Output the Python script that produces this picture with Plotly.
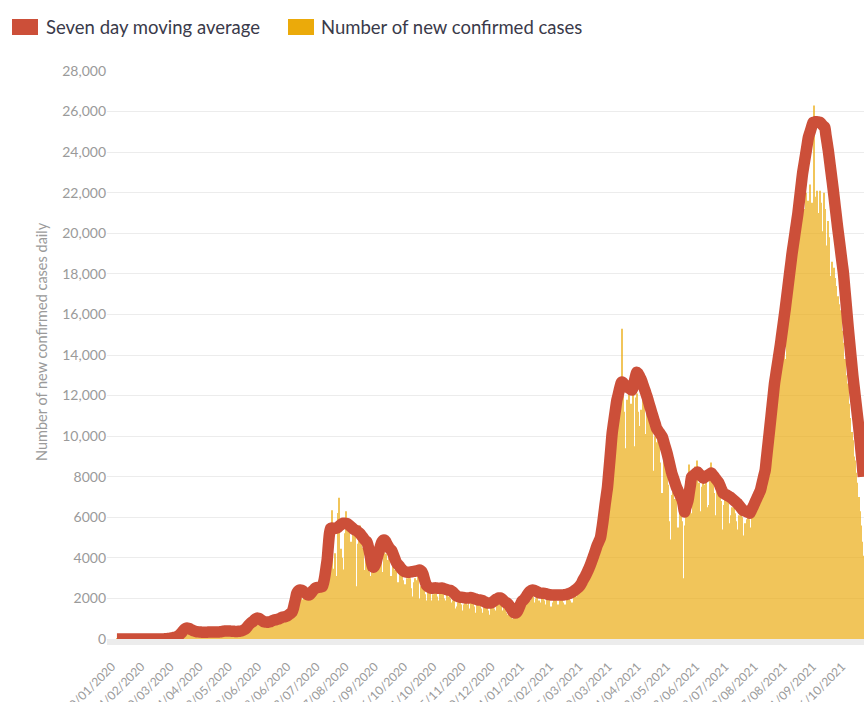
import pandas as pd
import plotly.graph_objects as go

start_date = "2020-01-30"

# Daily new confirmed cases (one value per day)
new_cases = [
    1, 0, 1, 0, 0, 0, 1, 0, 0, 0,
    0, 0, 0, 0, 0, 0, 0, 0, 0, 0,
    0, 0, 0, 0, 0, 0, 0, 0, 0, 0,
    0, 0, 0, 0, 0, 0,
    2, 0, 2, 1, 4, 6, 10, 3, 12, 10, 20, 47, 64, 77, 140,
    90, 102, 217, 84, 272, 343, 538, 305, 528, 385, 343, 507, 227, 414, 250, 302, 192, 398, 291, 284,
    230, 280, 510, 290, 260, 270, 330, 420, 350, 300, 280, 390, 320, 240, 330, 380, 270, 360, 290, 320,
    410, 480, 350, 390, 380, 470, 310, 290, 420, 350, 330, 460, 360, 300,
    380, 420, 350, 480, 410, 530, 620, 680, 590, 900, 1046, 860,
    1040, 980, 860, 1150, 1000, 970, 910, 1080, 780, 820, 960, 900, 720, 880,
    780, 940, 1010, 870, 1020, 930, 800, 1040, 1150, 960, 1100, 1190, 980, 1050, 1290, 1180, 990, 1400, 1330, 1240,
    1560, 2100, 1900, 2200, 1600, 2500, 2320, 2100, 1950, 2400,
    1800, 2300, 1900, 2000, 2500, 2100, 2400, 2600, 2200, 2700, 2500, 2300, 2800, 2450, 2600, 2900,
    3000, 2500, 3900, 4000, 4963, 5032,
    3226, 6352, 3462, 3379, 4226, 3109, 6216, 6958, 2987, 4444, 4002, 3420, 5211, 6300,
    5200, 5600, 5600, 4800, 3800, 5300, 5500, 5500, 2600, 4700, 5200, 5600, 4800, 3900, 4500, 3400, 4700, 2900,
    3500, 3300, 3100, 3800, 2500, 3900, 4100, 4600, 3500,
    4800, 4400, 4700, 3300, 2800, 4650, 4200, 3900, 3700, 4400, 2900, 3100,
    3600, 3400, 3200, 3500, 2400, 2800, 3300, 3100, 3200, 2900, 2000, 2700, 3000,
    2800, 3100, 3000, 2500, 2100, 2800, 3000, 2900, 2800, 3100, 2000, 2600, 2900, 2700, 2400, 2200, 1900,
    2300, 2100, 2400, 1800, 1900, 2200, 2300, 2400, 2100, 1700, 1900, 2300, 2400, 2200, 2000, 1600, 1900, 2200, 2100, 2000,
    1800, 1700, 1900, 2000, 1500, 1600, 1800, 1900, 2000, 1700, 1400, 1700, 1800, 1900, 1700, 1900, 1500, 1800, 1900, 1800,
    1600, 1300, 1700, 1600, 1700, 1800,
    1500, 1300, 1600, 1700, 1500, 1600, 1400, 1200, 1600, 1700, 1800, 1500, 1400, 1900, 1800, 1900, 2000,
    1700, 1400, 1600, 1500, 1300, 1100, 1200, 1300, 1100, 900, 1000, 1100, 1200, 1300, 1600, 1500, 1800, 1900, 1700, 2000,
    2100, 2000, 1800, 2200, 2000, 1900, 2300, 2100, 1800, 1700, 2000, 2100, 1900, 1600, 1800, 2100, 2000,
    1900, 1700, 2000, 2100, 2000, 1500, 1600, 1800, 2000, 2100, 1900, 1500, 1700, 1900, 2000, 2100, 1800, 1400, 1700, 2000,
    2200, 2000, 1900, 1600, 1800,
    2200, 2400, 2100, 1900, 2500, 2700, 2600, 2800, 2500, 3000, 3100, 3200, 2800, 3300, 3700, 3900, 3500, 4100, 4400, 4700,
    4200, 4900, 5200, 4400, 5300, 5900, 6600, 7100, 6100, 7800, 8000, 8800, 9300, 7600, 9800, 10000, 11000, 9500, 12500, 10300,
    11800, 15300,
    12000, 11200, 9400, 6500, 11800, 12100, 8200, 11600, 11500, 12400, 9500, 11900, 12100, 11200, 7900, 10500, 11300,
    11800, 12200, 10100, 8600, 11300, 11600, 10800, 9800, 10600, 8300, 7300, 10000, 9700, 10400, 9500, 8700, 6900, 7200, 9300, 8700,
    8100, 8000, 7600, 5800, 4900, 7100, 7400, 6900, 6400, 6900, 5500, 4500, 6600, 6300, 5800, 3000, 5600,
    6800, 7200, 7800, 8600, 7400, 6200, 6900, 8200, 8500, 7900, 8800, 7700, 6100, 6300, 7500, 8000, 7600, 8100, 6500, 5400,
    6600, 8000, 8700,
    7900, 7200, 5900, 6100, 7400, 7100, 7600, 6800, 5400, 5000, 6600, 6900, 7200, 6700, 5700, 4800, 6100, 6500, 6600, 6200,
    5800, 4300, 5400, 6100, 6400, 6000, 5100, 3800, 5700, 5900, 6200, 5900, 5500,
    4600, 6000, 6700, 7000, 7400, 6600, 5300, 7300, 7900, 8100, 8600, 8400, 7200, 8300, 9800, 10600, 11000, 10100, 8700, 11800,
    12400, 13300, 14300, 12700, 10600, 13900,
    14800, 15200, 16000, 13800, 11700, 16500, 17100, 18300, 18700, 17600, 12400, 19300, 20500, 19200, 13100, 20500, 21300, 22100,
    21500, 20000, 21200, 22000, 19000, 21600, 22400, 20800, 21500, 20600, 26300, 21800, 22100, 19800, 21000, 22100,
    21500, 20100, 22000, 21200, 19400, 18700, 20600, 19800, 17900, 18600, 12500, 18300, 17800, 17400, 16900, 16500, 15800, 16200,
    15200, 14600, 13800, 13000, 12300, 12600, 11600, 10900, 10200, 9800, 9000, 8800, 8200, 7700, 7000, 6300, 5600, 4800, 4100,
]

# Seven day moving average (one value per day)
moving_avg = [
    0, 0, 0, 0, 0, 0, 0, 0, 0, 0,
    0, 0, 0, 0, 0, 0, 0, 0, 0, 0,
    0, 0, 0, 0, 0, 0, 0, 0, 0, 0,
    0, 0, 0, 0, 0, 0,
    1, 1, 2, 3, 5, 8, 12, 18, 25, 33, 42, 52, 63, 75, 90,
    110, 140, 180, 230, 290, 360, 430, 490, 530, 540,
    530, 510, 480, 450, 420, 400, 380, 365, 355, 350,
    345, 340, 335, 330, 330, 330, 335, 340, 345, 350, 350, 350, 350, 345, 340, 340, 345, 350, 360, 370,
    380, 390, 400, 400, 400, 395, 390, 385, 380, 380, 375, 375, 375, 380,
    385, 395, 410, 430, 460, 500, 560, 630, 700, 760, 810, 840,
    900, 960, 1000, 1030, 1020, 1000, 960, 920, 880, 850, 840, 840, 830, 840,
    850, 870, 900, 920, 940, 950, 960, 980, 1000, 1030, 1060, 1080, 1090, 1100, 1120, 1150, 1190, 1230, 1280, 1330,
    1500, 1750, 2000, 2260, 2350, 2400, 2420, 2410, 2380, 2330,
    2280, 2230, 2190, 2170, 2190, 2250, 2320, 2400, 2460, 2510, 2530, 2540, 2550, 2560, 2570, 2600,
    2800, 3100, 3500, 3900, 4600, 5200,
    5450, 5470, 5460, 5450, 5460, 5470, 5500, 5550, 5600, 5650, 5690, 5710, 5710, 5700,
    5690, 5650, 5600, 5550, 5500, 5450, 5400, 5370, 5350, 5300, 5250, 5200, 5130, 5050, 4980, 4900, 4840, 4780,
    4600, 4350, 4050, 3750, 3550, 3550, 3650, 3800, 4040,
    4250, 4450, 4650, 4800, 4870, 4880, 4820, 4700, 4600, 4500, 4430, 4380,
    4250, 4100, 3950, 3800, 3700, 3650, 3580, 3500, 3430, 3380, 3340, 3310, 3300,
    3290, 3290, 3300, 3310, 3320, 3330, 3340, 3350, 3360, 3380, 3400, 3380, 3330, 3200, 3000, 2800, 2650,
    2600, 2560, 2530, 2510, 2500, 2510, 2520, 2520, 2510, 2500, 2500, 2510, 2520, 2500, 2480, 2460, 2440, 2420, 2410, 2400,
    2380, 2340, 2290, 2230, 2170, 2120, 2090, 2070, 2060, 2060, 2050, 2040, 2030, 2020, 2020, 2020, 2030, 2040, 2030, 2010,
    1990, 1970, 1950, 1930, 1920, 1920,
    1910, 1890, 1860, 1830, 1800, 1780, 1770, 1770, 1780, 1800, 1840, 1880, 1930, 1970, 2000, 2020, 2020,
    2000, 1960, 1900, 1840, 1790, 1770, 1720, 1640, 1550, 1450, 1360, 1300, 1280, 1300, 1380, 1500, 1640, 1780, 1880, 1920,
    1980, 2060, 2150, 2240, 2310, 2360, 2400, 2410, 2400, 2380, 2350, 2320, 2290, 2270, 2260, 2260, 2260,
    2250, 2240, 2220, 2200, 2190, 2180, 2170, 2170, 2170, 2170, 2170, 2170, 2170, 2170, 2170, 2170, 2170, 2180, 2190, 2200,
    2220, 2240, 2260, 2290, 2320,
    2360, 2400, 2440, 2490, 2540, 2600, 2680, 2780, 2900, 3000, 3100, 3220, 3340, 3470, 3600, 3760, 3920, 4080, 4250, 4420,
    4600, 4730, 4860, 5000, 5350, 5750, 6200, 6650, 7070, 7490, 8150, 8800, 9480, 10150, 10570, 10980, 11380, 11770, 12000, 12250,
    12480, 12660,
    12650, 12580, 12500, 12450, 12410, 12380, 12340, 12300, 12270, 12450, 12700, 12950, 13150, 13100, 13000, 12880, 12760,
    12590, 12420, 12260, 12090, 11920, 11720, 11520, 11330, 11130, 10950, 10760, 10580, 10390,
    10300, 10210, 10130, 10040, 9950, 9750, 9550, 9360, 9160, 8920, 8670, 8430, 8180, 8010, 7830, 7660, 7490,
    7360, 7230, 7110, 6980, 6850, 6550, 6260, 6460, 6650, 6850, 7230, 7600, 7980,
    8030, 8080, 8130, 8180, 8230, 8170, 8110, 8050, 7990, 7930, 7970, 8000, 8040, 8080, 8110, 8150, 8180,
    8100, 8030, 7950, 7880, 7800, 7730, 7600, 7460, 7330, 7190,
    7160, 7130, 7100, 7060, 7030, 7000, 6950, 6900, 6850, 6800, 6750, 6700,
    6630, 6560, 6490, 6420, 6350, 6320, 6300, 6270, 6250, 6220, 6200,
    6320, 6450, 6570, 6700, 6830, 6960, 7080, 7210, 7340, 7590, 7830, 8080, 8320,
    8850, 9380, 9910, 10440, 10980, 11530, 12070, 12610, 12990, 13370, 13740, 14120, 14500,
    14930, 15350, 15780, 16200, 16670, 17130, 17600, 18070, 18530, 19000,
    19400, 19790, 20190, 20580, 20980, 21470, 21970, 22460, 22950,
    23310, 23660, 24020, 24380, 24730, 24920, 25100, 25290, 25470,
    25480, 25500, 25500, 25490, 25480, 25470, 25410, 25340, 25280, 25220,
    24840, 24470, 24090, 23640, 23180, 22730, 22270, 21780, 21280, 20790, 20300,
    19850, 19400, 18930, 18480, 18030, 17370, 16720, 16060, 15400,
    14800, 14200, 13600, 13000, 12500, 12000, 11500, 11000, 10500, 9900, 9300, 8700, 8000,
]

tick_labels = [
    "30/01/2020", "24/02/2020", "20/03/2020", "14/04/2020", "09/05/2020", "03/06/2020",
    "28/06/2020", "23/07/2020", "17/08/2020", "11/09/2020", "06/10/2020", "31/10/2020",
    "25/11/2020", "20/12/2020", "14/01/2021", "08/02/2021", "05/03/2021", "30/03/2021",
    "24/04/2021", "19/05/2021", "13/06/2021", "08/07/2021", "02/08/2021", "27/08/2021",
    "21/09/2021", "16/10/2021",
]

y_ticks = [0, 2000, 4000, 6000, 8000, 10000, 12000, 14000, 16000, 18000, 20000, 22000, 24000, 26000, 28000]
y_tick_labels = ["0", "2000", "4000", "6000", "8000", "10,000", "12,000", "14,000", "16,000",
                 "18,000", "20,000", "22,000", "24,000", "26,000", "28,000"]

series_names = ["Seven day moving average", "Number of new confirmed cases"]
y_title = "Number of new confirmed cases daily"

assert len(new_cases) == len(moving_avg), (len(new_cases), len(moving_avg))

dates = pd.date_range(start_date, periods=len(new_cases), freq="D").strftime("%d/%m/%Y").tolist()

RED = "#CC4F39"
YELLOW = "#EBAA0A"
FONT = "Lato, 'Open Sans', sans-serif"

W, H = 864, 702
L, R, T, B = 107, 0, 71, 63
pw, ph = W - L - R, H - T - B

def px_x(p):
    return (p - L) / pw

def px_y(p):
    return (H - B - p) / ph

fig = go.Figure()
fig.add_trace(go.Bar(
    x=dates, y=new_cases, name=series_names[1],
    marker=dict(color=YELLOW, line=dict(width=0)), opacity=0.67,
    showlegend=False, hoverinfo="x+y",
))
fig.add_trace(go.Scatter(
    x=dates, y=moving_avg, name=series_names[0], mode="lines",
    line=dict(color=RED, width=11.5, shape="spline", smoothing=0.8), showlegend=False,
))

n = len(dates)
fig.update_layout(
    width=W, height=H,
    margin=dict(l=L, r=R, t=T, b=B, autoexpand=False),
    paper_bgcolor="white", plot_bgcolor="white",
    bargap=0.15,
    font=dict(family=FONT, color="#999999"),
    xaxis=dict(
        type="category", range=[-8.5, n - 0.4],
        tickmode="array", tickvals=tick_labels, ticktext=tick_labels,
        tickangle=-45, tickfont=dict(size=12, color="#9a9a9a"),
        ticklabelshift=-5, ticklabelstandoff=10,
        showgrid=False, showline=True, linecolor="#ececec", linewidth=6,
        ticks="", automargin=False, fixedrange=True,
    ),
    yaxis=dict(
        range=[0, 28000], tickmode="array", tickvals=y_ticks, ticktext=y_tick_labels,
        tickfont=dict(size=14, color="#9a9a9a"),
        showgrid=True, gridcolor="#ececec", gridwidth=1,
        zeroline=False, showline=False, ticks="", automargin=False, fixedrange=True,
    ),
    shapes=[
        dict(type="rect", xref="paper", yref="paper",
             x0=px_x(12), x1=px_x(38), y0=px_y(35), y1=px_y(19),
             fillcolor=RED, line=dict(width=0)),
        dict(type="rect", xref="paper", yref="paper",
             x0=px_x(288), x1=px_x(314), y0=px_y(35), y1=px_y(19),
             fillcolor=YELLOW, line=dict(width=0)),
    ],
    annotations=[
        dict(text=series_names[0], xref="paper", yref="paper", x=px_x(44), y=px_y(27),
             xanchor="left", yanchor="middle", showarrow=False,
             font=dict(size=18.5, color="#3a3a4a", family=FONT)),
        dict(text=series_names[1], xref="paper", yref="paper", x=px_x(319), y=px_y(27),
             xanchor="left", yanchor="middle", showarrow=False,
             font=dict(size=18.5, color="#3a3a4a", family=FONT)),
        dict(text=y_title, xref="paper", yref="paper", x=px_x(41), y=px_y(342),
             xanchor="center", yanchor="middle", textangle=-90, showarrow=False,
             font=dict(size=14.5, color="#9a9a9a", family=FONT)),
    ],
)

fig.write_html(
    "out.html",
    config={"displayModeBar": False},
    post_script="document.body.style.margin='0';document.body.style.overflow='hidden';",
)
